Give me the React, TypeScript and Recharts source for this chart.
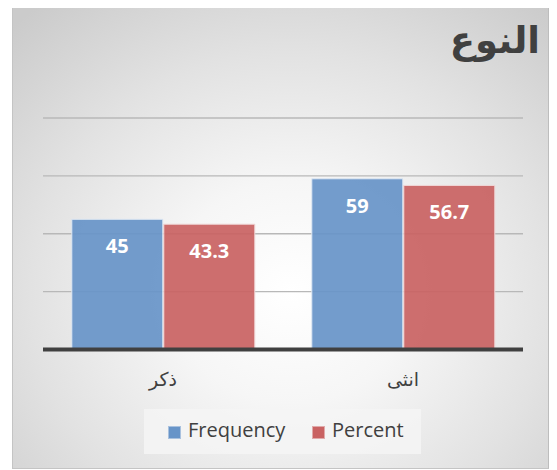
import React from "react";
import { BarChart, Bar, XAxis, YAxis, CartesianGrid, LabelList } from "recharts";

const categories = ["ذكر", "انثى"];
const frequency = [45, 59];
const percent = [43.3, 56.7];
const yTicks = [0, 20, 40, 60, 80];
const title = "النوع";
const seriesNames = ["Frequency", "Percent"];

const data = categories.map((c, i) => ({ name: c, Frequency: frequency[i], Percent: percent[i] }));

const BLUE = "#6794c8";
const RED = "#c96262";

const renderLabel = (props: any) => {
  const { x, y, width, value } = props;
  return (
    <text
      x={Number(x) + Number(width) / 2}
      y={Number(y) + 34}
      fill="#ffffff"
      textAnchor="middle"
      fontFamily="'Open Sans', sans-serif"
      fontWeight={700}
      fontSize={20}
    >
      {value}
    </text>
  );
};

const renderTick = (props: any) => {
  const { x, y, payload } = props;
  return (
    <text
      x={x}
      y={Number(y) + 28}
      fill="#404040"
      textAnchor="middle"
      fontFamily="'DejaVu Sans', sans-serif"
      fontSize={19}
    >
      {payload.value}
    </text>
  );
};

export default function App() {
  return (
    <div style={{ position: "relative", left: -8, top: -8, width: 557, height: 470, overflow: "hidden", background: "#ffffff" }}>
      <div
        style={{
          position: "absolute",
          left: 12,
          top: 5,
          width: 538,
          height: 464,
          boxSizing: "border-box",
          border: "1px solid #c4c4c4",
          borderRight: "2px solid #bdbdbd",
          background: "radial-gradient(ellipse 75% 80% at 52% 62%, #ffffff 0%, #f6f6f6 30%, #e2e2e2 65%, #cbcbcb 100%)",
        }}
      />
      <div
        style={{
          position: "absolute",
          right: 17,
          top: 16,
          direction: "rtl",
          fontFamily: "'DejaVu Sans', sans-serif",
          fontWeight: 700,
          fontSize: 37,
          color: "#404040",
          lineHeight: "50px",
        }}
      >
        {title}
      </div>
      <div style={{ position: "absolute", left: 0, top: 0 }}>
        <BarChart
          width={557}
          height={470}
          data={data}
          margin={{ top: 118, right: 34, left: 43, bottom: 90.5 }}
          barCategoryGap="12%"
          barGap={1}
        >
          <CartesianGrid vertical={false} stroke="#b8b8b8" strokeWidth={1.3} />
          <YAxis hide domain={[0, 80]} ticks={yTicks} />
          <XAxis
            dataKey="name"
            axisLine={{ stroke: "#404040", strokeWidth: 4 }}
            tickLine={false}
            tick={renderTick}
            height={30}
          />
          <Bar dataKey="Frequency" fill={BLUE} fillOpacity={0.92} stroke="#dfe8f3" strokeWidth={1} isAnimationActive={false}>
            <LabelList dataKey="Frequency" content={renderLabel} />
          </Bar>
          <Bar dataKey="Percent" fill={RED} fillOpacity={0.92} stroke="#f0d8d8" strokeWidth={1} isAnimationActive={false}>
            <LabelList dataKey="Percent" content={renderLabel} />
          </Bar>
        </BarChart>
      </div>
      <div
        style={{
          position: "absolute",
          left: 144,
          top: 409,
          width: 277,
          height: 45,
          background: "rgba(245,245,245,0.85)",
          fontFamily: "'Open Sans', sans-serif",
          fontSize: 20,
          color: "#404040",
        }}
      >
        <span style={{ position: "absolute", left: 24, top: 17, width: 13, height: 13, background: BLUE, border: "1px solid #a9c1de", boxSizing: "border-box" }} />
        <span style={{ position: "absolute", left: 44, top: 6, lineHeight: "30px" }}>{seriesNames[0]}</span>
        <span style={{ position: "absolute", left: 168, top: 17, width: 13, height: 13, background: RED, border: "1px solid #e0aaaa", boxSizing: "border-box" }} />
        <span style={{ position: "absolute", left: 188, top: 6, lineHeight: "30px" }}>{seriesNames[1]}</span>
      </div>
    </div>
  );
}
